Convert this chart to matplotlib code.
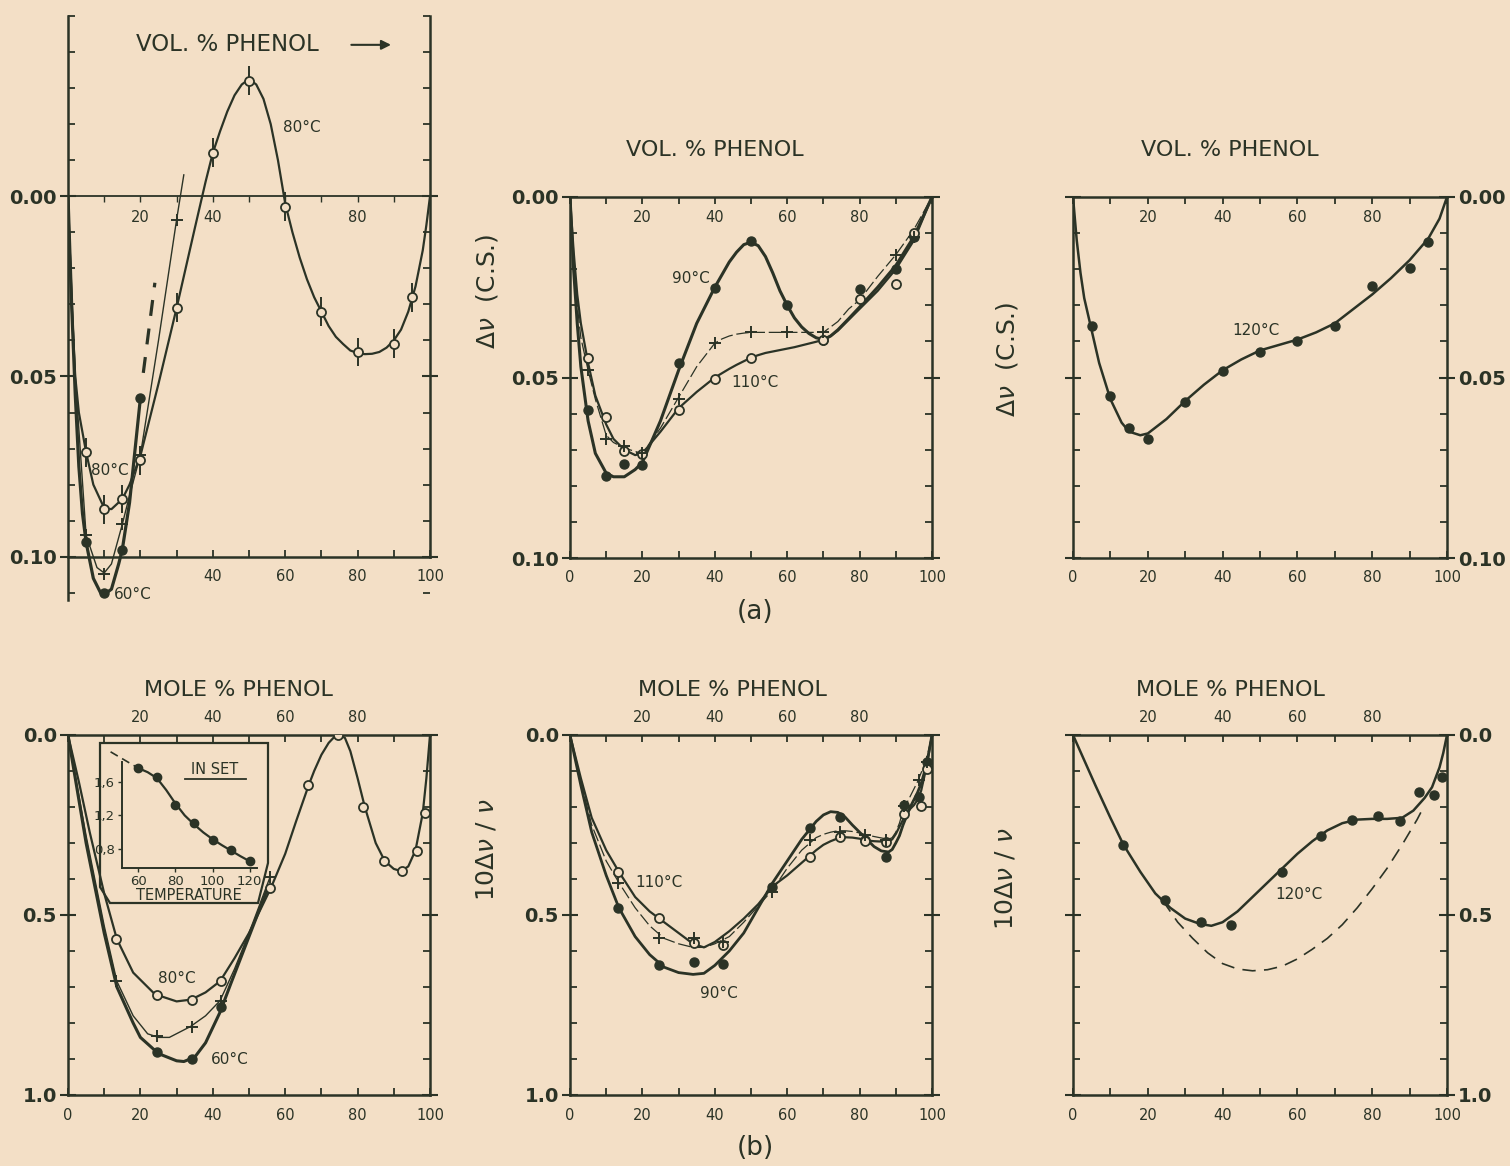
import matplotlib.pyplot as plt
from matplotlib.ticker import MultipleLocator, FixedLocator
from matplotlib.patches import Polygon

BG = '#f3dfc6'
INK = '#2b3326'
plt.rcParams['font.family'] = 'DejaVu Sans'
plt.rcParams['mathtext.fontset'] = 'dejavusans'

# ---------------- (a) vol. % phenol ----------------
vol_x = [5, 10, 15, 20, 30, 40, 50, 60, 70, 80, 90, 95]

# left panel, 60 / 70 / 80 C
a1_80_y = [0.071, 0.0868, 0.084, 0.0732, 0.0309, -0.0121, -0.032, 0.0029, 0.032, 0.0432, 0.0409, 0.028]
a1_70_x = [5, 10, 15, 20, 30]
a1_70_y = [0.094, 0.1047, 0.091, 0.0718, 0.0065]
a1_60_x = [5, 10, 15, 20]
a1_60_y = [0.096, 0.110, 0.098, 0.056]

a1_80_cx = [0, 1, 2, 3, 5, 7, 10, 12, 15, 17, 20, 25, 30, 35, 38, 40, 42, 44, 46, 48, 50, 52, 54, 56, 58,
            60, 62, 64, 66, 68, 70, 72, 74, 76, 78, 80, 82, 84, 86, 88, 90, 92, 94, 96, 98, 99, 100]
a1_80_cy = [0, 0.03, 0.05, 0.06, 0.071, 0.08, 0.0865, 0.0868, 0.084, 0.08, 0.072, 0.052, 0.031, 0.009, -0.004,
            -0.012, -0.018, -0.0235, -0.028, -0.031, -0.0325, -0.031, -0.027, -0.020, -0.010,
            0.002, 0.010, 0.017, 0.023, 0.028, 0.032, 0.036, 0.039, 0.041, 0.0428, 0.0435, 0.0438, 0.0437,
            0.0432, 0.042, 0.040, 0.037, 0.032, 0.025, 0.015, 0.008, 0]
a1_70_cx = [0, 2, 5, 8, 10, 12, 15, 17, 20, 25, 30, 32]
a1_70_cy = [0, 0.05, 0.094, 0.103, 0.1045, 0.102, 0.091, 0.083, 0.0718, 0.04, 0.0065, -0.006]
a1_60_cx = [0, 1, 2, 3, 4, 5, 7, 9, 10, 12, 14, 15, 17, 20]
a1_60_cy = [0, 0.03, 0.055, 0.075, 0.088, 0.096, 0.106, 0.110, 0.1105, 0.109, 0.102, 0.098, 0.085, 0.056]
a1_60_dx = [20.8, 24]
a1_60_dy = [0.049, 0.024]

# middle panel, 90 / 100 / 110 C
a2_90_y = [0.0591, 0.0773, 0.074, 0.0742, 0.0461, 0.0253, 0.0123, 0.030, 0.0395, 0.0254, 0.0199, 0.011]
a2_110_x = [5, 10, 15, 20, 30, 40, 50, 70, 80, 90, 95]
a2_110_y = [0.0445, 0.061, 0.0703, 0.0712, 0.0591, 0.0503, 0.0445, 0.0396, 0.0283, 0.0241, 0.0101]
a2_100_x = [5, 10, 15, 20, 30, 40, 50, 60, 70, 90, 95]
a2_100_y = [0.048, 0.067, 0.0689, 0.071, 0.0559, 0.0404, 0.0375, 0.0375, 0.0375, 0.016, 0.011]

a2_cx = [0, 1, 2, 3, 5, 7, 10, 12, 15, 18, 20, 25, 30, 35, 40, 42, 44, 46, 48, 50, 52, 54, 56, 58, 60,
         62, 64, 66, 68, 70, 72, 74, 77, 80, 85, 90, 95, 100]
a2_90_cy = [0, 0.02, 0.035, 0.047, 0.062, 0.071, 0.0765, 0.0775, 0.0775, 0.0755, 0.0735, 0.062, 0.048, 0.035,
            0.025, 0.0215, 0.018, 0.0153, 0.0132, 0.0125, 0.0135, 0.0165, 0.021, 0.026, 0.030,
            0.0335, 0.036, 0.0378, 0.039, 0.0395, 0.0385, 0.0368, 0.0337, 0.0305, 0.025, 0.019, 0.011, 0]
a2_110_cy = [0, 0.015, 0.027, 0.035, 0.046, 0.055, 0.063, 0.067, 0.070, 0.0715, 0.071, 0.065, 0.0585, 0.054,
             0.050, 0.0488, 0.0476, 0.0465, 0.0455, 0.0445, 0.0438, 0.0432, 0.0428, 0.0424, 0.042,
             0.0416, 0.0411, 0.0406, 0.0401, 0.0395, 0.0385, 0.037, 0.034, 0.031, 0.026, 0.020, 0.012, 0]
a2_100_cy = [0, 0.017, 0.030, 0.039, 0.048, 0.056, 0.066, 0.068, 0.0695, 0.0705, 0.071, 0.064, 0.0555, 0.047,
             0.0405, 0.0393, 0.0385, 0.038, 0.0377, 0.0375, 0.0375, 0.0375, 0.0375, 0.0375, 0.0375,
             0.0375, 0.0375, 0.0375, 0.0375, 0.0375, 0.036, 0.0345, 0.031, 0.0285, 0.022, 0.016, 0.009, 0]

# right panel, 120 C
a3_y = [0.0358, 0.0551, 0.064, 0.0669, 0.0569, 0.0481, 0.0428, 0.0398, 0.0358, 0.0246, 0.0196, 0.0126]
a3_cx = [0, 1, 2, 3, 5, 7, 10, 13, 15, 18, 20, 25, 30, 35, 40, 45, 50, 55, 60, 65, 70, 75, 80, 85, 90, 95, 98, 100]
a3_cy = [0, 0.012, 0.021, 0.028, 0.037, 0.046, 0.056, 0.0625, 0.065, 0.066, 0.0655, 0.0615, 0.0565, 0.052,
         0.048, 0.045, 0.0425, 0.041, 0.0395, 0.0375, 0.035, 0.031, 0.027, 0.0225, 0.0175, 0.0115, 0.006, 0]

# ---------------- (b) mole % phenol ----------------
mole_x = [13.3, 24.5, 34.3, 42.3, 55.8, 66.3, 74.7, 81.6, 87.3, 92.4, 96.4, 98.6]

b1_80_y = [0.567, 0.721, 0.735, 0.684, 0.426, 0.139, 0.0, 0.199, 0.350, 0.378, 0.322, 0.217]
b1_70_x = [13.3, 24.5, 34.3, 42.3, 55.8]
b1_70_y = [0.684, 0.835, 0.81, 0.738, 0.395]
b1_60_x = [24.5, 34.3, 42.3]
b1_60_y = [0.881, 0.9, 0.755]

b1_80_cx = [0, 3, 6, 10, 13.5, 18, 24, 30, 34, 38, 42, 46, 50, 56, 60, 63, 66.5, 68, 70, 72, 73.5, 75, 76.5,
            78, 80, 82, 85, 87.5, 90, 92, 94, 96, 98, 99, 100]
b1_80_cy = [0, 0.13, 0.27, 0.44, 0.567, 0.66, 0.72, 0.74, 0.735, 0.715, 0.684, 0.62, 0.55, 0.426, 0.33, 0.24,
            0.139, 0.1, 0.055, 0.022, 0.006, 0.0, 0.008, 0.045, 0.12, 0.2, 0.3, 0.35, 0.372, 0.378, 0.365,
            0.32, 0.217, 0.12, 0]
b1_70_cx = [0, 5, 10, 13.5, 18, 22, 25, 28, 33.8, 38, 42, 46, 50, 55.8]
b1_70_cy = [0, 0.28, 0.53, 0.684, 0.78, 0.83, 0.84, 0.84, 0.81, 0.78, 0.738, 0.65, 0.55, 0.395]
b1_60_cx = [0, 5, 10, 13.5, 18, 20, 25, 30, 32, 35, 38, 42, 45, 50, 55]
b1_60_cy = [0, 0.30, 0.55, 0.70, 0.80, 0.84, 0.885, 0.905, 0.907, 0.895, 0.855, 0.77, 0.69, 0.56, 0.43]

inset_T = [60, 70, 80, 90, 100, 110, 120]
inset_v = [1.757, 1.651, 1.324, 1.115, 0.910, 0.792, 0.658]
inset_cT = [60, 65, 70, 75, 80, 85, 90, 95, 100, 105, 110, 115, 120]
inset_cv = [1.757, 1.71, 1.64, 1.5, 1.34, 1.2, 1.095, 1.0, 0.92, 0.85, 0.785, 0.72, 0.66]
inset_dT = [45, 60]
inset_dv = [1.95, 1.757]

b2_90_y = [0.481, 0.639, 0.63, 0.636, 0.421, 0.259, 0.227, 0.292, 0.338, 0.194, 0.171, 0.074]
b2_110_x = [13.3, 24.5, 34.3, 42.3, 66.3, 74.7, 81.6, 87.3, 92.4, 96.9, 98.6]
b2_110_y = [0.38, 0.509, 0.579, 0.583, 0.338, 0.282, 0.294, 0.296, 0.219, 0.197, 0.095]
b2_100_y = [0.412, 0.565, 0.565, 0.574, 0.435, 0.292, 0.269, 0.278, 0.292, 0.197, 0.125, 0.074]

b2_cx = [0, 3, 6, 10, 13.5, 18, 22, 26, 30, 34, 37, 40, 44, 48, 52, 56, 60, 64, 68, 70, 72, 74, 76, 78, 80,
         82, 84, 86, 88, 89, 90, 91, 92, 93, 94, 95, 96, 97, 98, 99, 100]
b2_90_cy = [0, 0.14, 0.27, 0.39, 0.48, 0.56, 0.61, 0.645, 0.66, 0.665, 0.662, 0.64, 0.6, 0.55, 0.48, 0.41,
            0.35, 0.29, 0.24, 0.222, 0.213, 0.215, 0.228, 0.25, 0.27, 0.29, 0.31, 0.322, 0.325, 0.318, 0.30,
            0.28, 0.25, 0.225, 0.2, 0.18, 0.16, 0.135, 0.1, 0.055, 0]
b2_110_cy = [0, 0.12, 0.23, 0.32, 0.38, 0.45, 0.49, 0.52, 0.55, 0.58, 0.59, 0.575, 0.545, 0.51, 0.47, 0.42,
             0.39, 0.355, 0.32, 0.305, 0.295, 0.287, 0.284, 0.285, 0.288, 0.293, 0.295, 0.296, 0.295, 0.29,
             0.275, 0.255, 0.235, 0.218, 0.205, 0.195, 0.18, 0.155, 0.11, 0.06, 0]
b2_100_cy = [0, 0.13, 0.25, 0.35, 0.41, 0.48, 0.53, 0.565, 0.58, 0.59, 0.59, 0.58, 0.56, 0.52, 0.475, 0.43,
             0.37, 0.32, 0.285, 0.276, 0.27, 0.266, 0.266, 0.268, 0.272, 0.278, 0.282, 0.286, 0.29, 0.285,
             0.27, 0.245, 0.21, 0.19, 0.17, 0.15, 0.13, 0.105, 0.08, 0.045, 0]

b3_y = [0.306, 0.459, 0.52, 0.527, 0.38, 0.28, 0.236, 0.226, 0.239, 0.157, 0.166, 0.117]
b3_cx = [0, 3, 6, 10, 13.5, 18, 22, 26, 30, 34, 37, 40, 44, 48, 52, 56, 60, 64, 68, 72, 76, 80, 84, 88, 91,
         94, 96, 98, 99, 100]
b3_cy = [0, 0.07, 0.14, 0.23, 0.305, 0.38, 0.44, 0.48, 0.51, 0.525, 0.53, 0.52, 0.49, 0.45, 0.41, 0.37, 0.33,
         0.295, 0.265, 0.245, 0.235, 0.233, 0.233, 0.23, 0.21, 0.175, 0.145, 0.09, 0.05, 0]
b3_dx = [24, 28, 32, 36, 40, 44, 48, 52, 56, 60, 64, 68, 72, 76, 80, 84, 88, 92, 93]
b3_dy = [0.46, 0.52, 0.565, 0.605, 0.635, 0.65, 0.655, 0.652, 0.642, 0.622, 0.595, 0.565, 0.527, 0.48, 0.427,
         0.37, 0.305, 0.235, 0.215]


fig = plt.figure(figsize=(15.1, 11.66), dpi=100, facecolor=BG)


def px_axes(x0, x1, y0, y1):
    # pixel box (top-left origin) -> figure axes
    return fig.add_axes([x0 / 1510, 1 - y1 / 1166, (x1 - x0) / 1510, (y1 - y0) / 1166])


def style(ax, ylim, ymajor, ystep, yfmt, side='left', toplabels=True, top_inside=True):
    ax.set_facecolor('none')
    ax.set_xlim(0, 100)
    ax.set_ylim(*ylim)
    for s in ax.spines.values():
        s.set_color(INK)
        s.set_linewidth(1.8)
    ax.xaxis.set_major_locator(MultipleLocator(20))
    ax.xaxis.set_minor_locator(MultipleLocator(10))
    ax.tick_params(axis='x', which='both', direction='in', top=True, bottom=True, length=5,
                   width=1.3, colors=INK, labelsize=10.5, pad=9)
    ax.yaxis.set_major_locator(FixedLocator(ymajor))
    ax.yaxis.set_minor_locator(MultipleLocator(ystep))
    ax.set_yticklabels([yfmt % v for v in ymajor])
    ax.tick_params(axis='y', which='minor', direction='in', left=True, right=True, length=5,
                   width=1.3, colors=INK)
    ax.tick_params(axis='y', which='major', direction='inout', left=True, right=True, length=12,
                   width=1.5, colors=INK, labelsize=14, pad=2,
                   labelleft=(side == 'left'), labelright=(side == 'right'))
    for lab in ax.get_yticklabels():
        lab.set_fontweight('bold')
    if toplabels:
        sec = ax.secondary_xaxis(1.0)
        sec.set_xticks([20, 40, 60, 80])
        if top_inside:
            sec.set_alignment('bottom')
            sec.tick_params(length=0, pad=9, labelsize=10.5, colors=INK)
        else:
            sec.tick_params(length=0, pad=7, labelsize=10.5, colors=INK)
        for s in sec.spines.values():
            s.set_visible(False)


def title(ax, txt, xf, yf):
    ax.text(xf, yf, txt, transform=ax.transAxes, ha='center', va='center', fontsize=16, color=INK)


def ylab(ax, txt, xf, yf):
    ax.text(xf, yf, txt, transform=ax.transAxes, rotation=90, ha='center', va='center',
            fontsize=18, color=INK)


def curve(ax, x, y, lw, **kw):
    ax.plot(x, y, color=INK, lw=lw, solid_capstyle='round', **kw)


def dots(ax, x, y, kind, ms=6.5):
    if kind == 'fill':
        ax.plot(x, y, 'o', ms=ms, color=INK, mec=INK, zorder=5)
    elif kind == 'open':
        ax.plot(x, y, 'o', ms=ms, mfc=BG, mec=INK, mew=1.3, zorder=5)
    else:
        ax.plot(x, y, '+', ms=9, color=INK, mew=1.4, zorder=5)


def label(ax, x, y, txt):
    ax.text(x, y, txt, fontsize=11, color=INK, ha='center', va='center')


# ---------- top left ----------
ax = px_axes(68, 430, 16, 600)
style(ax, (0.112, -0.05), [0.0, 0.05, 0.10], 0.01, '%.2f', toplabels=False)
ax.spines['top'].set_visible(False)
ax.spines['bottom'].set_position(('data', 0.10))
ax.spines['right'].set_bounds(0.10, -0.05)
ax.xaxis.set_major_locator(FixedLocator([40, 60, 80, 100]))
ax.xaxis.set_minor_locator(FixedLocator([10, 20, 30, 50, 70, 90]))
ax.tick_params(axis='x', which='both', top=False)
sec = ax.secondary_xaxis(0.0, transform=ax.transData)
sec.set_alignment('bottom')
sec.set_xticks([20, 40, 80])
sec.xaxis.set_minor_locator(FixedLocator([10, 30, 50, 60, 70, 90]))
sec.tick_params(which='both', direction='out', length=4, width=1.0, colors=INK, pad=6, labelsize=10.5)
sec.spines['bottom'].set_linewidth(1.3)
sec.spines['bottom'].set_color(INK)
curve(ax, a1_80_cx, a1_80_cy, 1.6)
curve(ax, a1_70_cx, a1_70_cy, 1.0)
curve(ax, a1_60_cx, a1_60_cy, 2.3)
curve(ax, a1_60_dx, a1_60_dy, 2.3, ls=(0, (5, 4)))
ax.errorbar(vol_x, a1_80_y, yerr=0.004, fmt='o', ms=6.5, mfc=BG, mec=INK, mew=1.3,
            ecolor=INK, elinewidth=1.4, capsize=0, zorder=5)
dots(ax, a1_70_x, a1_70_y, 'plus')
dots(ax, a1_60_x, a1_60_y, 'fill')
label(ax, 64.7, -0.019, '80°C')
label(ax, 11.6, 0.076, '80°C')
label(ax, 18, 0.1106, '60°C')
ax.text(44, -0.042, 'VOL. % PHENOL', ha='center', va='center', fontsize=16.5, color=INK)
ax.annotate('', xy=(90, -0.042), xytext=(77.5, -0.042),
            arrowprops=dict(arrowstyle='-|>', color=INK, lw=1.5, mutation_scale=14))

# ---------- top middle ----------
ax = px_axes(570, 932, 197, 558)
style(ax, (0.10, 0.0), [0.0, 0.05, 0.10], 0.01, '%.2f')
curve(ax, a2_cx, a2_90_cy, 2.2)
curve(ax, a2_cx, a2_110_cy, 1.6)
curve(ax, a2_cx, a2_100_cy, 0.9, ls=(0, (10, 3)))
dots(ax, vol_x, a2_90_y, 'fill')
dots(ax, a2_110_x, a2_110_y, 'open')
dots(ax, a2_100_x, a2_100_y, 'plus')
label(ax, 33.5, 0.0225, '90°C')
label(ax, 51, 0.0513, '110°C')
title(ax, 'VOL. % PHENOL', 0.40, 1.13)
ylab(ax, r'$\Delta\nu$  (C.S.)', -0.23, 0.74)

# ---------- top right ----------
ax = px_axes(1073, 1447, 197, 558)
style(ax, (0.10, 0.0), [0.0, 0.05, 0.10], 0.01, '%.2f', side='right')
curve(ax, a3_cx, a3_cy, 1.8)
dots(ax, vol_x, a3_y, 'fill')
label(ax, 49, 0.037, '120°C')
title(ax, 'VOL. % PHENOL', 0.42, 1.13)
ylab(ax, r'$\Delta\nu$  (C.S.)', -0.176, 0.55)

# ---------- bottom left ----------
ax = px_axes(68, 430, 735, 1095)
style(ax, (1.0, 0.0), [0.0, 0.5, 1.0], 0.1, '%.1f', top_inside=False)
curve(ax, b1_80_cx, b1_80_cy, 1.6)
curve(ax, b1_70_cx, b1_70_cy, 1.0)
curve(ax, b1_60_cx, b1_60_cy, 2.2)
dots(ax, mole_x, b1_80_y, 'open')
dots(ax, b1_70_x, b1_70_y, 'plus')
dots(ax, b1_60_x, b1_60_y, 'fill')
label(ax, 30, 0.677, '80°C')
label(ax, 44.7, 0.9, '60°C')
title(ax, 'MOLE % PHENOL', 0.47, 1.125)

# inset frame
frame = [(100, 743), (268, 743), (268, 863), (258, 903), (110, 903), (100, 887)]
fig.patches.append(Polygon([(x / 1510, 1 - y / 1166) for x, y in frame], closed=True,
                           transform=fig.transFigure, fill=False, ec=INK, lw=1.6))
ai = px_axes(121.7, 257, 762, 868)
ai.set_facecolor('none')
ai.set_xlim(51, 124)
ai.set_ylim(0.58, 1.83)
ai.spines['top'].set_visible(False)
ai.spines['right'].set_visible(False)
for s in ('left', 'bottom'):
    ai.spines[s].set_color(INK)
    ai.spines[s].set_linewidth(1.4)
ai.set_xticks([60, 80, 100, 120])
ai.set_yticks([0.8, 1.2, 1.6])
ai.set_yticklabels(['0,8', '1,2', '1,6'])
ai.tick_params(length=3, width=1.0, colors=INK, labelsize=9.5, pad=2)
ai.set_xlabel('TEMPERATURE', fontsize=10.5, color=INK, labelpad=0)
ai.plot(inset_cT, inset_cv, color=INK, lw=1.6)
ai.plot(inset_dT, inset_dv, color=INK, lw=1.2, ls=(0, (5, 3)), clip_on=False)
ai.plot(inset_T, inset_v, 'o', ms=6, color=INK, clip_on=False, zorder=5)
ai.text(0.69, 0.93, 'IN SET', transform=ai.transAxes, ha='center', va='center', fontsize=10.5, color=INK)
ai.plot([0.47, 0.92], [0.84, 0.84], transform=ai.transAxes, color=INK, lw=1.3, clip_on=False)

# ---------- bottom middle ----------
ax = px_axes(570, 932, 735, 1095)
style(ax, (1.0, 0.0), [0.0, 0.5, 1.0], 0.1, '%.1f', top_inside=False)
curve(ax, b2_cx, b2_90_cy, 2.0)
curve(ax, b2_cx, b2_110_cy, 1.6)
curve(ax, b2_cx, b2_100_cy, 0.9, ls=(0, (10, 3)))
dots(ax, mole_x, b2_90_y, 'fill')
dots(ax, b2_110_x, b2_110_y, 'open')
dots(ax, mole_x, b2_100_y, 'plus')
label(ax, 24.7, 0.41, '110°C')
label(ax, 41, 0.718, '90°C')
title(ax, 'MOLE % PHENOL', 0.45, 1.125)
ylab(ax, r'10$\Delta\nu$ / $\nu$', -0.23, 0.68)

# ---------- bottom right ----------
ax = px_axes(1073, 1447, 735, 1095)
style(ax, (1.0, 0.0), [0.0, 0.5, 1.0], 0.1, '%.1f', side='right', top_inside=False)
curve(ax, b3_cx, b3_cy, 1.8)
curve(ax, b3_dx, b3_dy, 1.2, ls=(0, (8, 5)))
dots(ax, mole_x, b3_y, 'fill')
label(ax, 60.3, 0.443, '120°C')
title(ax, 'MOLE % PHENOL', 0.42, 1.125)
ylab(ax, r'10$\Delta\nu$ / $\nu$', -0.18, 0.6)

fig.text(755 / 1510, 1 - 612 / 1166, '(a)', ha='center', va='center', fontsize=19, color=INK)
fig.text(755 / 1510, 1 - 1148 / 1166, '(b)', ha='center', va='center', fontsize=19, color=INK)

fig.savefig('out.png', dpi=100, facecolor=BG)
